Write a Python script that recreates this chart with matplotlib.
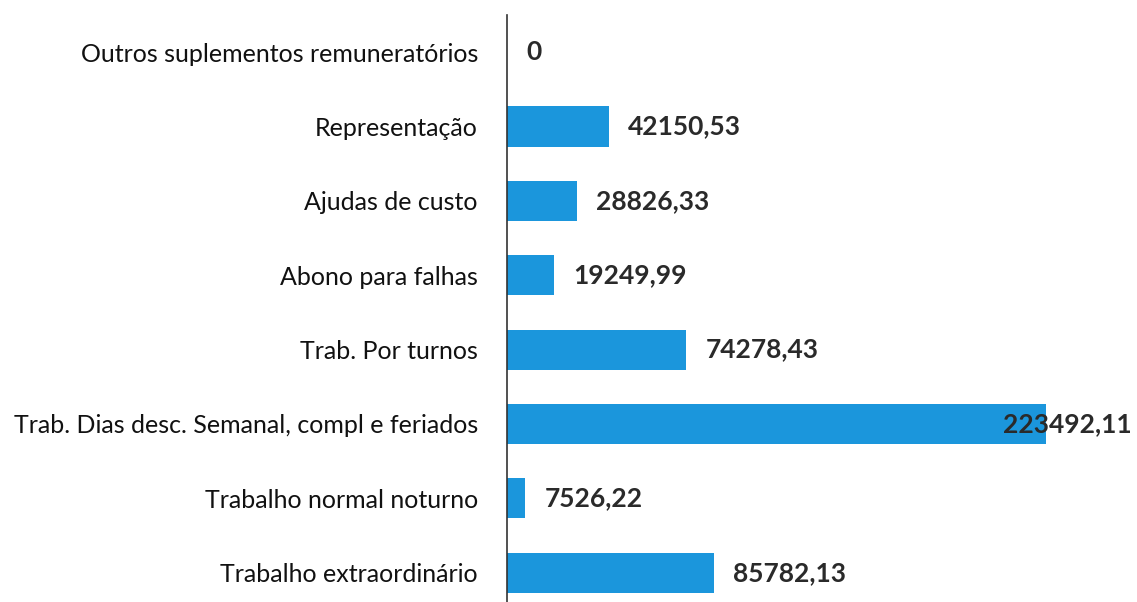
import matplotlib
matplotlib.use('agg')
import matplotlib.pyplot as plt
import numpy as np

categories = ["Trabalho extraordinário", "Trabalho normal noturno",
              "Trab. Dias desc. Semanal, compl e feriados", "Trab. Por turnos",
              "Abono para falhas", "Ajudas de custo", "Representação",
              "Outros suplementos remuneratórios"]
values = [85782.13, 7526.22, 223492.11, 74278.43, 19249.99, 28826.33, 42150.53, 0]
value_labels = ["85782,13", "7526,22", "223492,11", "74278,43",
                "19249,99", "28826,33", "42150,53", "0"]

plt.rcParams['font.family'] = ['Lato', 'DejaVu Sans']

fig = plt.figure(figsize=(11.37, 6.02), dpi=100)
ax = fig.add_axes([0.446, -0.013, 0.474, 0.988])

y = np.arange(len(categories))
ax.barh(y, values, height=0.54, color='#1b96dc')

ax.set_xlim(0, max(values))
ax.set_ylim(-0.5, len(categories) - 0.5)
ax.set_yticks(y)
ax.set_yticklabels(categories, fontsize=18, color='#111111')
ax.tick_params(axis='y', length=0, pad=21)
ax.set_xticks([])

for s in ['top', 'right', 'bottom']:
    ax.spines[s].set_visible(False)
ax.spines['left'].set_color('#333333')
ax.spines['left'].set_linewidth(1.2)

for yi, v, lab in zip(y, values, value_labels):
    if v == max(values):
        ax.annotate(lab, xy=(1.0, yi), xycoords=('figure fraction', 'data'),
                    xytext=(-4, 0), textcoords='offset points',
                    ha='right', va='center', fontsize=19, fontweight='bold',
                    color='#2a2a2a')
    else:
        ax.annotate(lab, xy=(v, yi), xytext=(14, 0), textcoords='offset points',
                    ha='left', va='center', fontsize=19, fontweight='bold',
                    color='#2a2a2a')

plt.savefig("out.png", dpi=100)
